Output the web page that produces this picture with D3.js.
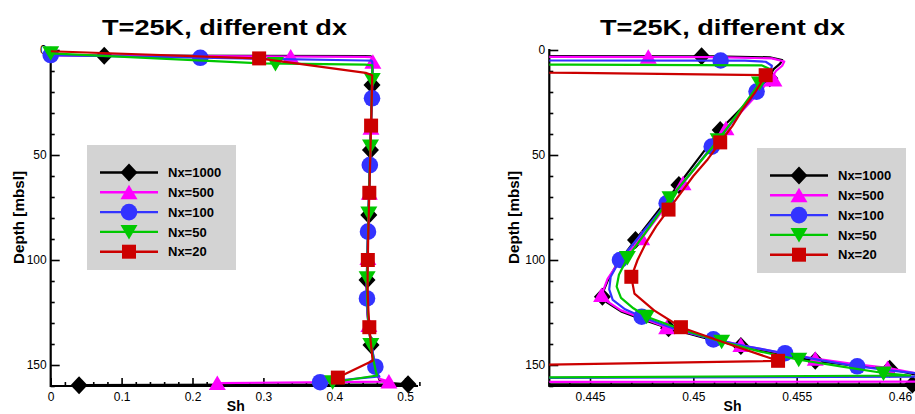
<!DOCTYPE html>
<html><head><meta charset="utf-8">
<script src="https://cdn.jsdelivr.net/npm/d3@7"></script>
<style>
html,body{margin:0;padding:0;background:#fff;}
svg{display:block;}
text{font-family:"Liberation Sans", Arial, Helvetica, sans-serif;}
</style></head><body>
<svg id="chart" width="915" height="414"></svg>
<script>
// ---------------- DATA ----------------
const seriesNames = ["Nx=1000", "Nx=500", "Nx=100", "Nx=50", "Nx=20"];
const chartTitle = "T=25K, different dx";
const xLabel = "Sh";
const yLabel = "Depth [mbsl]";

const depthTicks = [0, 50, 100, 150];
const depthMinorTicks = [10,20,30,40,60,70,80,90,110,120,130,140,160];
const leftShTicks = [0, 0.1, 0.2, 0.3, 0.4, 0.5];
const leftShTickLabels = ["0", "0.1", "0.2", "0.3", "0.4", "0.5"];
const leftShMinorTicks = [0.02,0.04,0.06,0.08,0.12,0.14,0.16,0.18,0.22,0.24,0.26,0.28,0.32,0.34,0.36,0.38,0.42,0.44,0.46,0.48,0.52];
const rightShTicks = [0.445, 0.45, 0.455, 0.46];
const rightShTickLabels = ["0.445", "0.45", "0.455", "0.46"];
const rightShMinorTicks = [0.443,0.444,0.446,0.447,0.448,0.449,0.451,0.452,0.453,0.454,0.456,0.457,0.458,0.459,0.461];

// profile lines: [Sh, depth]
const nx1000Line = [[0,2.3],[0.0755,2.7],[0.443,2.9],[0.451,3.0],[0.4537,3.5],[0.4543,4.8],[0.4542,6.5],[0.4539,9],[0.4537,12],[0.4531,20],[0.4513,38],[0.4493,64],[0.4472,90.5],[0.4463,102],[0.44585,110],[0.4456,116],[0.4458,120],[0.4465,124.5],[0.4476,128.5],[0.4488,132.5],[0.4505,137],[0.4523,141],[0.4541,144.8],[0.4559,148],[0.4577,150.2],[0.4595,151.8],[0.4607,154.5],[0.464,157.3],[0.48,158.6],[0.504,159.2],[0.04,159.6]];
const nx500Line = [[0,2.6],[0.3385,3.1],[0.443,3.3],[0.451,3.4],[0.4538,4.0],[0.4544,5.5],[0.4543,7.5],[0.454,10],[0.4538,13],[0.4532,20],[0.4516,37.3],[0.4495,63.5],[0.4475,89.7],[0.4464,101],[0.44585,109],[0.4456,115.5],[0.4458,119.5],[0.4465,124],[0.4476,128],[0.4487,132],[0.4505,136.5],[0.4523,140.5],[0.4541,144],[0.4559,147],[0.4577,149.5],[0.4594,151.4],[0.4608,154],[0.464,156.6],[0.477,157.9],[0.235,158.6]];
const nx100Line = [[0,2.4],[0.211,3.7],[0.443,5.0],[0.4525,5.1],[0.4535,5.6],[0.4538,7.5],[0.4537,12],[0.4531,19.8],[0.4509,46],[0.4487,73],[0.44645,100],[0.446,108],[0.44593,114],[0.4461,119],[0.4467,123.5],[0.4475,127],[0.449,132.5],[0.451,137.8],[0.4527,141.3],[0.4544,144.4],[0.4562,147.8],[0.4579,150.6],[0.4597,152.8],[0.4612,154.4],[0.4635,155.4],[0.38,158.2]];
const nx50Line = [[0,1.6],[0.3,6.4],[0.444,7.0],[0.4533,7.3],[0.4537,9],[0.4536,12],[0.4532,15.9],[0.4512,43],[0.44887,70.6],[0.44681,99],[0.4464,107],[0.44629,112.7],[0.4465,118],[0.4471,123],[0.44774,127],[0.4494,133],[0.45137,138.9],[0.4532,143.5],[0.4551,147.5],[0.4572,150.8],[0.4592,153.8],[0.4605,155],[0.3976,158.2]];
const nx20Line = [[0,0.6],[0.294,4],[0.4443,10.9],[0.4535,12],[0.453,20],[0.4524,28],[0.4519,36],[0.4513,44],[0.4507,52],[0.45,60],[0.4494,68],[0.4488,76],[0.4482,84],[0.4477,92],[0.4473,100],[0.447,108],[0.44715,116],[0.4481,124],[0.4494,132],[0.4517,140],[0.4541,148],[0.405,156]];

// symbols shown in each panel: [Sh, depth]
const nx1000MarksLeft = [[0.0755,2.7],[0.4532,16.7],[0.451,47.6],[0.4487,78.6],[0.4461,109.5],[0.4518,140.5],[0.504,159.2],[0.04,159.6]];
const nx500MarksLeft = [[0.3385,3.1],[0.4544,5.6],[0.4517,37],[0.4494,68],[0.4474,99],[0.4488,131],[0.477,157.9],[0.235,158.6]];
const nx100MarksLeft = [[0,2.4],[0.211,3.7],[0.4532,23],[0.4501,54.8],[0.4475,86.5],[0.4461,118.3],[0.4579,150.8],[0.38,158.2]];
const nx50MarksLeft = [[0,1.6],[0.317,6.7],[0.4535,14.3],[0.4511,46],[0.4487,77.8],[0.4463,108.7],[0.4515,140.5],[0.3976,158.2]];
const nx20MarksLeft = [[0.294,4],[0.4519,36],[0.4494,68],[0.4473,100],[0.4494,132],[0.405,156]];

const nx1000MarksRight = [[0.4504,3.0],[0.4537,13.5],[0.4513,38.1],[0.4493,64.3],[0.4472,90.5],[0.4456,117.5],[0.4488,132.5],[0.4523,141],[0.4559,148],[0.4595,151.8],[0.4606,159.3]];
const nx500MarksRight = [[0.44782,3.2],[0.4539,14],[0.45158,37.3],[0.4495,63.5],[0.4475,89.7],[0.44556,116.7],[0.44871,132],[0.4523,140.5],[0.4559,147],[0.4594,151.4]];
const nx100MarksRight = [[0.45132,5.0],[0.45306,19.8],[0.45089,46],[0.44871,73],[0.44645,100],[0.4475,127],[0.45097,137.8],[0.45444,144.4],[0.45793,150.6]];
const nx50MarksRight = [[0.4532,15.9],[0.4512,43],[0.44887,70.6],[0.44681,99],[0.44774,127],[0.45137,138.9],[0.4551,147.5],[0.4592,154]];
const nx20MarksRight = [[0.4535,12],[0.4513,44],[0.4488,76],[0.447,108],[0.4494,132],[0.4541,148]];

// ---------------- STYLE ----------------
const colors = ["#000000", "#ff00ff", "#3333ff", "#00c800", "#cc0000"];
const symbols = ["diamond", "triUp", "circle", "triDown", "square"];
const lines = [nx1000Line, nx500Line, nx100Line, nx50Line, nx20Line];
const marksLeft = [nx1000MarksLeft, nx500MarksLeft, nx100MarksLeft, nx50MarksLeft, nx20MarksLeft];
const marksRight = [nx1000MarksRight, nx500MarksRight, nx100MarksRight, nx50MarksRight, nx20MarksRight];

function symbolPath(t) {
  switch (t) {
    case "diamond": return "M0,-9L8.5,0L0,9L-8.5,0Z";
    case "triUp": return "M0,-7.5L8.5,7L-8.5,7Z";
    case "triDown": return "M0,7.5L8.5,-7L-8.5,-7Z";
    case "square": return "M-7,-7h14v14h-14Z";
    case "circle": return "M8.3,0A8.3,8.3 0 1,1 -8.3,0A8.3,8.3 0 1,1 8.3,0Z";
  }
}

const svg = d3.select("#chart");
const defs = svg.append("defs");
const Y0 = 50, Y1 = 386;

function drawPanel(cfg) {
  const x = d3.scaleLinear().domain(cfg.xDomain).range(cfg.xRange);
  const y = d3.scaleLinear().domain([0, 160]).range([Y0, Y1]);
  const g = svg.append("g");
  const clipId = "clip" + cfg.id;
  defs.append("clipPath").attr("id", clipId).append("rect")
    .attr("x", cfg.left).attr("y", Y0 - 1).attr("width", cfg.right - cfg.left).attr("height", Y1 - Y0 + 1);

  // title
  g.append("text").attr("x", cfg.titleX).attr("y", 35).attr("text-anchor", "middle")
    .attr("font-size", 22).attr("font-weight", "bold").attr("textLength", 245)
    .attr("lengthAdjust", "spacingAndGlyphs").text(chartTitle);

  // axes
  const ax = g.append("g");
  const xMajor = d3.axisBottom(x).tickValues(cfg.xTicks).tickFormat((d, i) => cfg.xTickLabels[i])
    .tickSizeInner(-8).tickSizeOuter(0).tickPadding(6);
  const xMinor = d3.axisBottom(x).tickValues(cfg.xMinor).tickFormat("").tickSizeInner(-4).tickSizeOuter(0);
  const yMajor = d3.axisLeft(y).tickValues(depthTicks).tickSizeInner(-9).tickSizeOuter(0).tickPadding(4);
  const yMinor = d3.axisLeft(y).tickValues(depthMinorTicks).tickFormat("").tickSizeInner(-4).tickSizeOuter(0);
  [[xMajor, "translate(0," + Y1 + ")"], [xMinor, "translate(0," + Y1 + ")"],
   [yMajor, "translate(" + cfg.left + ",0)"], [yMinor, "translate(" + cfg.left + ",0)"]].forEach(([a, tr]) => {
    const gg = ax.append("g").attr("transform", tr).call(a);
    gg.select(".domain").remove();
    gg.selectAll(".tick line").attr("stroke", "#000").attr("stroke-width", 1.6);
    gg.selectAll(".tick text").attr("font-size", 12).attr("fill", "#000")
      .attr("font-family", '"Liberation Sans", Arial, sans-serif');
  });
  ax.append("line").attr("x1", cfg.left).attr("x2", cfg.right).attr("y1", Y1).attr("y2", Y1)
    .attr("stroke", "#000").attr("stroke-width", 2.2);
  ax.append("line").attr("x1", cfg.left).attr("x2", cfg.left).attr("y1", Y0 - 1).attr("y2", Y1 + 1)
    .attr("stroke", "#000").attr("stroke-width", 2.2);

  // axis titles
  g.append("text").attr("x", cfg.xLabelX).attr("y", 411).attr("text-anchor", "middle")
    .attr("font-size", 14).attr("font-weight", "bold").text(xLabel);
  g.append("text").attr("transform", "translate(" + cfg.yLabelX + ",217.5) rotate(-90)")
    .attr("text-anchor", "middle").attr("font-size", 14).attr("font-weight", "bold")
    .attr("textLength", 93).attr("lengthAdjust", "spacingAndGlyphs").text(yLabel);

  // data
  const lineGen = d3.line().x(d => x(d[0])).y(d => y(d[1]));
  const xmin = x.invert(cfg.left), xmax = x.invert(cfg.right);
  lines.forEach((ln, i) => {
    g.append("path").datum(ln).attr("clip-path", "url(#" + clipId + ")")
      .attr("d", lineGen).attr("fill", "none").attr("stroke", colors[i])
      .attr("stroke-width", 2.2).attr("stroke-linejoin", "round");
    const mk = cfg.marks[i].filter(d => d[0] >= xmin - 1e-9 && d[0] <= xmax && d[1] >= 0 && d[1] <= 160);
    g.selectAll(null).data(mk).enter().append("path")
      .attr("transform", d => "translate(" + x(d[0]) + "," + y(d[1]) + ")")
      .attr("d", symbolPath(symbols[i])).attr("fill", colors[i]);
  });

  // legend
  const lg = g.append("g").attr("transform", "translate(" + cfg.legend[0] + "," + cfg.legend[1] + ")");
  lg.append("rect").attr("x", 0).attr("y", 0).attr("width", 149).attr("height", 125).attr("fill", "#d3d3d3");
  seriesNames.forEach((nm, i) => {
    const cy = 27.5 + i * 19.8;
    lg.append("line").attr("x1", 13).attr("x2", 71).attr("y1", cy).attr("y2", cy)
      .attr("stroke", colors[i]).attr("stroke-width", 2.4);
    lg.append("path").attr("transform", "translate(42," + cy + ")").attr("d", symbolPath(symbols[i])).attr("fill", colors[i]);
    lg.append("text").attr("x", 81).attr("y", cy).attr("dy", "0.36em").attr("font-size", 13)
      .attr("font-weight", "bold").text(nm);
  });
}

drawPanel({
  id: "L", xDomain: [0, 0.5], xRange: [50.7, 405.2], left: 50.7, right: 418,
  xTicks: leftShTicks, xTickLabels: leftShTickLabels, xMinor: leftShMinorTicks,
  titleX: 224.5, xLabelX: 235.8, yLabelX: 23.5, legend: [87, 145], marks: marksLeft
});
drawPanel({
  id: "R", xDomain: [0.445, 0.46], xRange: [590, 900], left: 549.3, right: 930,
  xTicks: rightShTicks, xTickLabels: rightShTickLabels, xMinor: rightShMinorTicks,
  titleX: 722.5, xLabelX: 732.5, yLabelX: 519, legend: [757, 148], marks: marksRight
});
</script>
</body></html>
